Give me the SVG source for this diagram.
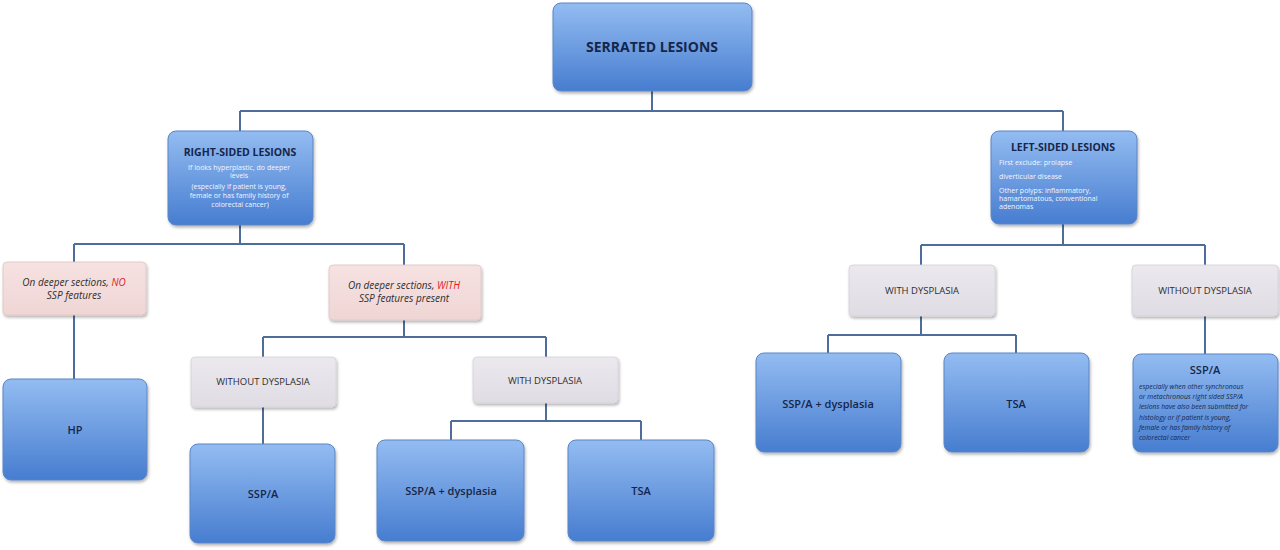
<svg xmlns="http://www.w3.org/2000/svg" width="1280" height="550" viewBox="0 0 1280 550">
<defs>
<linearGradient id="blue" x1="0" y1="0" x2="0" y2="1">
<stop offset="0" stop-color="#93bcf1"/>
<stop offset="1" stop-color="#477dd0"/>
</linearGradient>
<linearGradient id="gray" x1="0" y1="0" x2="0" y2="1">
<stop offset="0" stop-color="#ebe8ee"/>
<stop offset="1" stop-color="#e0dce4"/>
</linearGradient>
<linearGradient id="pink" x1="0" y1="0" x2="0" y2="1">
<stop offset="0" stop-color="#f6e2e1"/>
<stop offset="1" stop-color="#efd6d5"/>
</linearGradient>
<filter id="sh" x="-10%" y="-10%" width="125%" height="130%">
<feDropShadow dx="1" dy="2" stdDeviation="1.5" flood-color="#000" flood-opacity="0.3"/>
</filter>
</defs>
<style>
.b{fill:url(#blue);stroke:#5a86c6;stroke-width:1;filter:url(#sh)}
.g{fill:url(#gray);stroke:#d4d0d8;stroke-width:0.8;filter:url(#sh)}
.p{fill:url(#pink);stroke:#dec4c3;stroke-width:0.8;filter:url(#sh)}
.c{fill:none;stroke:#4e6d9b;stroke-width:2}
text{font-family:"Open Sans","Liberation Sans",sans-serif}
.t{font-weight:bold;fill:#16264a;text-anchor:middle}
.n{fill:#16264a;text-anchor:middle;font-size:11px;font-weight:600}
.gt{fill:#2e2e2e;text-anchor:middle;font-size:9.5px}
.pt{fill:#2e2e2e;text-anchor:middle;font-size:10px;font-style:italic}
.red{fill:#e02020}
.w{fill:#f2f6ff;font-size:7px}
.it{fill:#16264a;font-size:6.8px;font-style:italic}
</style>
<g id="connectors">
<path class="c" d="M652 91V111M240 111H1063M240 111V131M1063 111V131"/>
<path class="c" d="M240 225V244M74 244H404M74 244V262M404 244V265"/>
<path class="c" d="M74 315V379"/>
<path class="c" d="M404 320V337M263 337H546M263 337V357M546 337V357"/>
<path class="c" d="M263 407V444"/>
<path class="c" d="M546 403V421M451 421H641M451 421V440M641 421V440"/>
<path class="c" d="M1063 224V245M921 245H1205M921 245V265M1205 245V265"/>
<path class="c" d="M921 316V335M828 335H1016M828 335V353M1016 335V353"/>
<path class="c" d="M1205 316V354"/>
</g>
<g id="serrated">
<rect class="b" x="553" y="3" width="199" height="88" rx="8"/>
<text class="t" x="652" y="52" font-size="14">SERRATED LESIONS</text>
</g>
<g id="right-sided">
<rect class="b" x="168" y="131" width="145" height="94" rx="8"/>
<text class="t" x="240" y="156" font-size="10.5">RIGHT-SIDED LESIONS</text>
<text class="w" text-anchor="middle">
<tspan x="240" y="170">If looks hyperplastic, do deeper</tspan>
<tspan x="240" y="178">levels</tspan>
<tspan x="240" y="189">(especially if patient is young,</tspan>
<tspan x="240" y="198">female or has family history of</tspan>
<tspan x="240" y="207">colorectal cancer)</tspan>
</text>
</g>
<g id="left-sided">
<rect class="b" x="991" y="131" width="146" height="93" rx="8"/>
<text class="t" x="1063" y="151" font-size="10.5">LEFT-SIDED LESIONS</text>
<text class="w">
<tspan x="999" y="165">First exclude: prolapse</tspan>
<tspan x="999" y="179">diverticular disease</tspan>
<tspan x="999" y="193">Other polyps: inflammatory,</tspan>
<tspan x="999" y="201">hamartomatous, conventional</tspan>
<tspan x="999" y="209">adenomas</tspan>
</text>
</g>
<g id="no-ssp">
<rect class="p" x="3" y="262" width="143" height="53" rx="4"/>
<text class="pt"><tspan x="74" y="286">On deeper sections, <tspan class="red">NO</tspan></tspan><tspan x="74" y="299">SSP features</tspan></text>
</g>
<g id="with-ssp">
<rect class="p" x="329" y="265" width="152" height="55" rx="4"/>
<text class="pt"><tspan x="404" y="289">On deeper sections, <tspan class="red">WITH</tspan></tspan><tspan x="404" y="302">SSP features present</tspan></text>
</g>
<g id="hp">
<rect class="b" x="3" y="379" width="144" height="101" rx="8"/>
<text class="n" x="75" y="434">HP</text>
</g>
<g id="without-dysplasia-r">
<rect class="g" x="191" y="357" width="145" height="50" rx="4"/>
<text class="gt" x="263" y="385">WITHOUT DYSPLASIA</text>
</g>
<g id="with-dysplasia-r">
<rect class="g" x="473" y="357" width="145" height="46" rx="4"/>
<text class="gt" x="545" y="384">WITH DYSPLASIA</text>
</g>
<g id="sspa-r">
<rect class="b" x="190" y="444" width="145" height="99" rx="8"/>
<text class="n" x="263" y="498">SSP/A</text>
</g>
<g id="sspa-dys-r">
<rect class="b" x="377" y="440" width="147" height="101" rx="8"/>
<text class="n" x="451" y="495">SSP/A + dysplasia</text>
</g>
<g id="tsa-r">
<rect class="b" x="568" y="440" width="146" height="101" rx="8"/>
<text class="n" x="641" y="495">TSA</text>
</g>
<g id="with-dysplasia-l">
<rect class="g" x="849" y="265" width="146" height="51" rx="4"/>
<text class="gt" x="922" y="294">WITH DYSPLASIA</text>
</g>
<g id="without-dysplasia-l">
<rect class="g" x="1132" y="265" width="146" height="51" rx="4"/>
<text class="gt" x="1205" y="294">WITHOUT DYSPLASIA</text>
</g>
<g id="sspa-dys-l">
<rect class="b" x="756" y="353" width="145" height="99" rx="8"/>
<text class="n" x="828" y="408">SSP/A + dysplasia</text>
</g>
<g id="tsa-l">
<rect class="b" x="944" y="353" width="145" height="99" rx="8"/>
<text class="n" x="1016" y="408">TSA</text>
</g>
<g id="sspa-l">
<rect class="b" x="1133" y="354" width="145" height="98" rx="8"/>
<text class="n" x="1205" y="374">SSP/A</text>
<text class="it">
<tspan x="1139" y="389">especially when other synchronous</tspan>
<tspan x="1139" y="399">or metachronous right sided SSP/A</tspan>
<tspan x="1139" y="409">lesions have also been submitted for</tspan>
<tspan x="1139" y="420">histology or if patient is young,</tspan>
<tspan x="1139" y="430">female or has family history of</tspan>
<tspan x="1139" y="440">colorectal cancer</tspan>
</text>
</g>
</svg>
